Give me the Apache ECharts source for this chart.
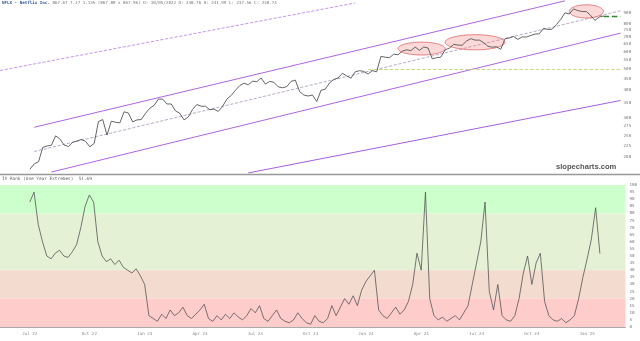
<!DOCTYPE html>
<html><head><meta charset="utf-8">
<script src="https://cdn.jsdelivr.net/npm/echarts@6/dist/echarts.min.js"></script>
<style>html,body{margin:0;padding:0;background:#fff}#c{width:640px;height:341px}</style>
</head><body><div id="c"></div>
<script>
// ---------- data ----------
const firstWeek = [2022, 4, 13];   // first weekly category (Friday)
const padWeeks = 7;                // empty weeks before data begins
const tickLabels = ["Jul 22","Oct 22","Jan 23","Apr 23","Jul 23","Oct 23","Jan 24","Apr 24","Jul 24","Oct 24","Jan 25"];
const tickDates  = ["2022-07-01","2022-10-07","2023-01-06","2023-04-07","2023-07-07","2023-10-06","2024-01-05","2024-04-05","2024-07-05","2024-10-04","2025-01-03"];
const priceTicks = [200,225,250,275,300,350,400,450,500,550,600,650,700,750,800,900];
const ivTicks = [0,5,10,15,20,25,30,35,40,45,50,55,60,65,70,75,80,85,90,95,100];

const price = [176,186,190,221,224,226,249,241,226,223,
 233,236,240,235,222,230,289,295,251,290,
 287,285,320,316,288,294,295,315,332,342,
 365,365,347,347,323,315,294,303,328,345,
 339,339,327,329,321,338,365,379,400,420,
 431,424,440,438,455,427,439,435,415,411,
 416,439,445,395,381,377,381,356,400,405,
 432,448,455,478,465,454,485,491,487,474,
 491,485,570,565,562,583,579,602,610,605,
 628,607,628,622,555,562,565,610,621,646,
 641,640,669,685,675,675,658,633,627,630,
 613,685,690,701,680,698,697,708,719,721,
 763,754,756,793,837,897,886,934,918,909,
 909,873,829,858,867.67];

const ivRank = [88,95,72,60,50,48,52,54,50,49,
 53,58,70,85,93,88,60,50,46,48,
 44,47,42,40,38,41,36,30,8,6,
 4,9,6,12,8,10,14,8,6,9,
 12,16,6,4,8,5,9,6,10,7,
 5,8,13,10,15,6,4,8,12,6,
 4,3,5,10,6,3,2,8,4,3,
 6,15,8,14,20,16,22,15,26,32,
 36,40,12,8,6,10,14,9,12,18,
 30,52,40,95,20,8,5,7,4,6,
 8,5,10,15,30,45,60,88,25,12,
 30,8,5,4,8,20,38,50,30,45,
 52,18,8,5,4,6,3,5,8,20,
 35,48,62,84,51.69];

const lastPrice = 867.67;
const supportLevel = 500;
// trendlines: [[categoryIndex, price], [categoryIndex, price]]
const trendUpper  = [[8, 272.3], [132, 1015.9]];
const trendMiddle = [[8, 211.5], [145, 916.3]];
const trendLower  = [[12, 170.8], [145, 726]];
const trendLongDashed = [[0, 492], [83, 994]];
const trendLongLow = [[58, 169.2], [145, 360]];
const supportStart = 86;
const lastPriceStart = 141;
// highlighted zones: [index1, index2, priceHigh, priceLow]
const zones = [[93, 104.4, 661, 578], [104.4, 118, 714, 610], [132.7, 141.4, 975, 850]];

const ivBands = [[80,100,'#ccffcc'],[40,80,'#e5f1d4'],[20,40,'#f3dbcf'],[0,20,'#ffcccc']];

// ---------- build ----------
function weeks(n){
  const out=[]; const d0=Date.UTC(firstWeek[0],firstWeek[1],firstWeek[2]);
  for(let i=0;i<n;i++){ out.push(new Date(d0+i*7*86400000).toISOString().slice(0,10)); }
  return out;
}
const catTop = weeks(146), catBot = weeks(148);
const pad = Array(padWeeks).fill(null);
const priceData = pad.concat(price);
const ivData = pad.concat(ivRank);
const step = 4.28;

const chart = echarts.init(document.getElementById('c'), null, {renderer:'canvas'});
const lbl = {fontFamily:'DejaVu Sans Mono', fontSize:4.2, color:'#777'};
const seg = (t, color, type, w) => [{coord:t[0]},{coord:t[1], lineStyle:{color, type, width:w}}];

chart.setOption({
  animation:false,
  grid:[
    {left:0, top:0, width:145*step, height:173},
    {left:0, top:185, width:147*step, height:142}
  ],
  xAxis:[
    {type:'category', gridIndex:0, data:catTop, boundaryGap:false,
     axisLine:{show:false}, axisTick:{show:false}, axisLabel:{show:false}, splitLine:{show:false}},
    {type:'category', gridIndex:1, data:catBot, boundaryGap:false,
     axisLine:{show:true, lineStyle:{color:'#aaa', width:1}}, axisTick:{show:false},
     axisLabel:Object.assign({}, lbl, {margin:5, color:'#888',
       interval:(i,v)=>tickDates.includes(v),
       formatter:v=>tickLabels[tickDates.indexOf(v)]||''}),
     splitLine:{show:false}}
  ],
  yAxis:[
    {type:'log', gridIndex:0, logBase:10, min:169.1, max:1025.1, position:'right',
     axisLine:{show:false}, axisTick:{show:false}, splitLine:{show:false},
     axisLabel:Object.assign({}, lbl, {margin:3, customValues:priceTicks, formatter:v=>String(Math.round(v))})},
    {type:'value', gridIndex:1, min:0, max:100, interval:5, position:'right',
     axisLine:{show:false}, axisTick:{show:false}, splitLine:{show:false},
     axisLabel:Object.assign({}, lbl, {margin:4, customValues:ivTicks})}
  ],
  series:[
    {type:'line', xAxisIndex:0, yAxisIndex:0, data:priceData, showSymbol:false, z:5,
     lineStyle:{color:'#555', width:0.9},
     markLine:{silent:true, symbol:'none', label:{show:false}, z:3,
       data:[
         seg(trendUpper,'#b065e6','solid',1),
         seg(trendMiddle,'#a896b8','dashed',0.8),
         seg(trendLower,'#b065e6','solid',1),
         seg(trendLongDashed,'#b87ae8','dashed',0.8),
         seg(trendLongLow,'#a65fe0','solid',1),
         [{coord:[supportStart, supportLevel]},{coord:[145, supportLevel], lineStyle:{color:'#c2d67c', type:'dashed', width:0.9}}],
         [{coord:[lastPriceStart, lastPrice]},{coord:[145, lastPrice], lineStyle:{color:'#2f8a2f', type:'dashed', width:1.4}}]
       ]}
    },
    {type:'custom', xAxisIndex:0, yAxisIndex:0, data:zones, encode:{x:[0,1], y:[2,3]}, z:4, silent:true,
     renderItem:(params, api)=>{
       const a = api.coord([api.value(0), api.value(2)]);
       const b = api.coord([api.value(1), api.value(3)]);
       const cx=(a[0]+b[0])/2, cy=(a[1]+b[1])/2, rx=Math.abs(b[0]-a[0])/2, ry=Math.abs(b[1]-a[1])/2;
       const pts=[]; for(let t=0;t<64;t++){const ang=t/64*Math.PI*2; pts.push([cx+rx*Math.cos(ang), cy+ry*Math.sin(ang)]);}
       return {type:'polygon', shape:{points:pts}, style:{fill:'rgba(240,120,120,0.28)', stroke:'#e06666', lineWidth:0.8}};
     }},
    {type:'line', xAxisIndex:1, yAxisIndex:1, data:ivData, showSymbol:false, z:5,
     lineStyle:{color:'#555', width:0.8},
     markArea:{silent:true, z:1, data: ivBands.map(b=>[{yAxis:b[0], itemStyle:{color:b[2]}},{yAxis:b[1]}])}
    }
  ],
  graphic:[
    {type:'line', shape:{x1:0,y1:174.5,x2:640,y2:174.5}, style:{stroke:'#999', lineWidth:1.5}},
    {type:'text', left:2, top:1, style:{text:'{a|NFLX - Netflix Inc.} 867.67 7.37 1.13% (867.88 x 867.96) D: 10/05/2022 O: 238.76 H: 241.99 L: 237.56 C: 240.74',
      fontFamily:'DejaVu Sans Mono', fontSize:4.2, fill:'#777',
      rich:{a:{fontFamily:'DejaVu Sans Mono', fontSize:4.2, fill:'#3050a0', fontWeight:'bold'}}}},
    {type:'text', left:2, top:177, style:{text:'IV Rank (One Year Extremes)  51.69', fontFamily:'DejaVu Sans Mono', fontSize:4.4, fill:'#666'}},
    {type:'text', left:556, top:163, style:{text:'slopecharts.com', fontFamily:'Liberation Sans', fontSize:7.6, fontWeight:'bold', fill:'#555'}}
  ]
});
</script></body></html>
